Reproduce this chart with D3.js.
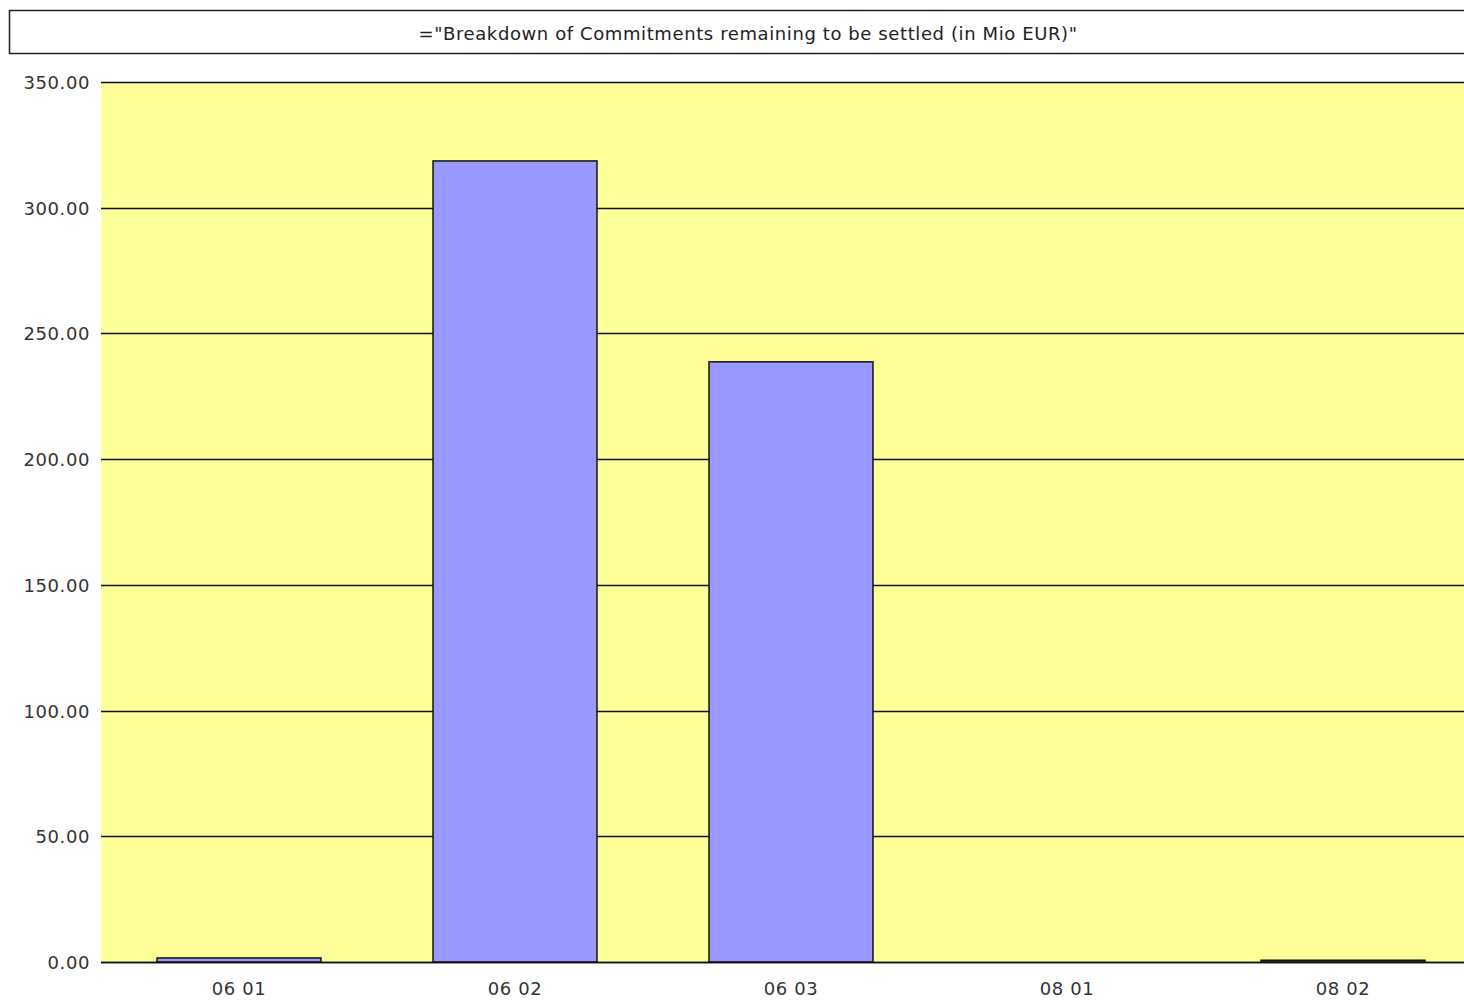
<!DOCTYPE html>
<html>
<head>
<meta charset="utf-8">
<script src="https://cdn.jsdelivr.net/npm/d3@7"></script>
<style>
  body { margin: 0; background: #fff; }
  svg { display: block; font-family: "DejaVu Sans", sans-serif; }
</style>
</head>
<body>
<div id="chart"></div>
<script>
const chart_width = 1464;
const chart_height = 1000;

// data
const categories = ["06 01", "06 02", "06 03", "08 01", "08 02"];
const values = [1.6, 318.6, 238.7, 0, 0.7];
const y_ticks = [0, 50, 100, 150, 200, 250, 300, 350];
const title_text = '="Breakdown of Commitments remaining to be settled (in Mio EUR)"';

const plot_left = 101, plot_right = 1481;
const plot_top = 82, plot_bottom = 962;

const svg = d3.select("#chart")
    .append("svg")
    .attr("width", chart_width)
    .attr("height", chart_height);

// title box
svg.append("rect")
    .attr("x", 9.5).attr("y", 10.5)
    .attr("width", 1478).attr("height", 43)
    .attr("fill", "#fff")
    .attr("stroke", "#222")
    .attr("stroke-width", 1.5);

svg.append("text")
    .attr("x", 748).attr("y", 40)
    .attr("text-anchor", "middle")
    .attr("font-size", 18)
    .attr("letter-spacing", 0.6)
    .attr("fill", "#222")
    .text(title_text);

const x = d3.scaleBand()
    .domain(categories)
    .range([plot_left, plot_right])
    .padding(0);

const y = d3.scaleLinear()
    .domain([0, 350])
    .range([plot_bottom, plot_top]);

// plot background
svg.append("rect")
    .attr("x", plot_left)
    .attr("y", plot_top)
    .attr("width", plot_right - plot_left)
    .attr("height", plot_bottom - plot_top)
    .attr("fill", "#ffff99");

// grid lines
svg.append("g")
    .selectAll("line")
    .data(y_ticks)
    .join("line")
    .attr("x1", plot_left)
    .attr("x2", plot_right)
    .attr("y1", d => Math.round(y(d)) + 0.5)
    .attr("y2", d => Math.round(y(d)) + 0.5)
    .attr("stroke", "#111")
    .attr("stroke-width", 1.5);

// y labels
svg.append("g")
    .selectAll("text")
    .data(y_ticks)
    .join("text")
    .attr("x", 90)
    .attr("y", d => y(d) + 7)
    .attr("text-anchor", "end")
    .attr("font-size", 18)
    .attr("letter-spacing", 0.6)
    .attr("fill", "#333")
    .text(d => d3.format(".2f")(d));

// bars
const bar_w = x.bandwidth() * 0.594;
svg.append("g")
    .selectAll("rect")
    .data(values.map((v, i) => ({ cat: categories[i], value: v })).filter(d => d.value > 0))
    .join("rect")
    .attr("x", d => x(d.cat) + (x.bandwidth() - bar_w) / 2)
    .attr("y", d => y(d.value))
    .attr("width", bar_w)
    .attr("height", d => y(0) - y(d.value))
    .attr("fill", "#9999ff")
    .attr("stroke", "#111")
    .attr("stroke-width", 1.5);

// x axis line
svg.append("line")
    .attr("x1", plot_left).attr("x2", plot_right)
    .attr("y1", plot_bottom + 0.5).attr("y2", plot_bottom + 0.5)
    .attr("stroke", "#111")
    .attr("stroke-width", 1.5);

// x labels
svg.append("g")
    .selectAll("text")
    .data(categories)
    .join("text")
    .attr("x", d => x(d) + x.bandwidth() / 2)
    .attr("y", 995)
    .attr("text-anchor", "middle")
    .attr("font-size", 18)
    .attr("letter-spacing", 0.6)
    .attr("fill", "#333")
    .text(d => d);
</script>
</body>
</html>
